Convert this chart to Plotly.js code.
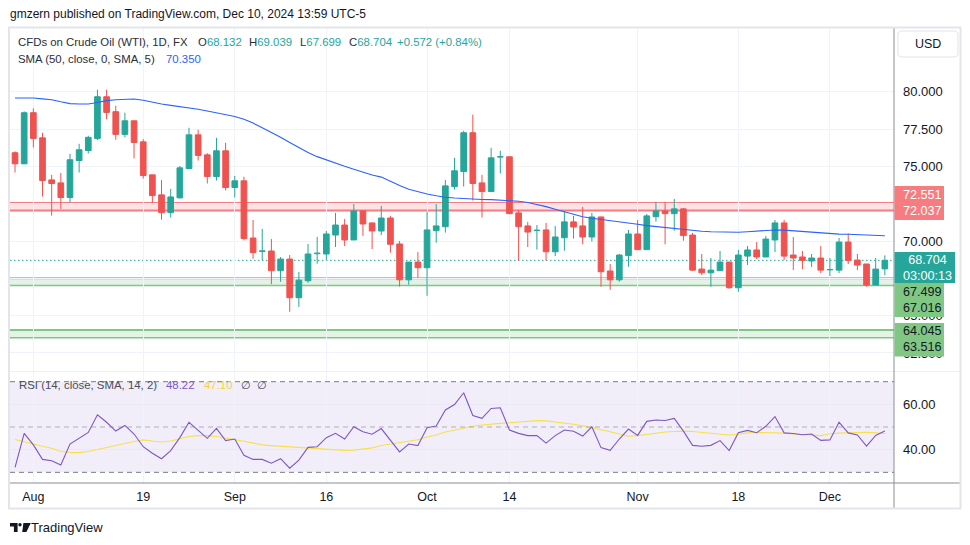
<!DOCTYPE html>
<html><head><meta charset="utf-8">
<script src="https://cdn.plot.ly/plotly-3.0.1.min.js"></script>
<style>html,body{margin:0;padding:0;background:#fff;overflow:hidden}#chart{width:970px;height:545px}</style>
</head><body><div id="chart"></div>
<script>
// ---------------- DATA ----------------
const dates = [
 '2024-07-30','2024-07-31',
 '2024-08-01','2024-08-02','2024-08-05','2024-08-06','2024-08-07','2024-08-08','2024-08-09','2024-08-12','2024-08-13','2024-08-14','2024-08-15','2024-08-16','2024-08-19','2024-08-20','2024-08-21','2024-08-22','2024-08-23','2024-08-26','2024-08-27','2024-08-28','2024-08-29','2024-08-30',
 '2024-09-02','2024-09-03','2024-09-04','2024-09-05','2024-09-06','2024-09-09','2024-09-10','2024-09-11','2024-09-12','2024-09-13','2024-09-16','2024-09-17','2024-09-18','2024-09-19','2024-09-20','2024-09-23','2024-09-24','2024-09-25','2024-09-26','2024-09-27','2024-09-30',
 '2024-10-01','2024-10-02','2024-10-03','2024-10-04','2024-10-07','2024-10-08','2024-10-09','2024-10-10','2024-10-11','2024-10-14','2024-10-15','2024-10-16','2024-10-17','2024-10-18','2024-10-21','2024-10-22','2024-10-23','2024-10-24','2024-10-25','2024-10-28','2024-10-29','2024-10-30','2024-10-31',
 '2024-11-01','2024-11-04','2024-11-05','2024-11-06','2024-11-07','2024-11-08','2024-11-11','2024-11-12','2024-11-13','2024-11-14','2024-11-15','2024-11-18','2024-11-19','2024-11-20','2024-11-21','2024-11-22','2024-11-25','2024-11-26','2024-11-27','2024-11-28','2024-11-29',
 '2024-12-02','2024-12-03','2024-12-04','2024-12-05','2024-12-06','2024-12-09','2024-12-10'
];
const openP = [75.91,75.17,78.59,76.91,74.09,73.89,72.91,75.39,76.06,76.87,
 79.66,78.66,77.14,78.05,76.64,74.43,73.09,71.90,72.89,74.85,
 77.11,75.77,74.32,76.04,73.58,74.03,70.20,69.30,69.33,68.01,
 68.79,66.20,67.34,69.15,69.13,70.40,71.07,70.07,72.01,71.21,
 70.67,71.54,69.80,67.40,68.59,68.21,70.69,70.96,73.65,74.65,
 77.25,73.89,73.31,75.62,75.64,71.88,71.01,70.70,70.74,69.28,
 70.22,71.28,71.01,70.27,71.61,67.99,67.40,69.02,70.47,69.42,
 71.63,72.01,71.83,72.15,70.40,68.12,67.87,68.01,68.59,66.87,
 68.99,69.40,68.93,70.07,71.21,69.06,68.93,68.66,68.86,68.07,
 68.05,69.93,68.72,68.46,67.05,68.132];
const highP = [76.00,78.68,78.88,77.25,74.43,74.56,75.84,76.51,77.05,80.13,
 80.13,79.06,78.59,78.05,76.82,74.43,74.09,73.49,75.03,77.58,
 77.45,75.88,76.91,76.58,74.36,74.30,71.41,70.81,70.13,68.93,
 69.06,67.92,69.80,70.27,70.67,71.88,71.48,72.48,72.01,71.21,
 72.35,71.68,70.00,68.59,69.26,71.95,72.48,74.09,75.57,77.38,
 78.46,74.43,76.24,76.04,75.64,72.08,71.28,71.07,71.21,71.01,
 72.01,71.68,72.28,71.88,71.61,68.46,69.13,70.74,71.41,71.81,
 72.62,72.62,72.82,72.21,70.54,69.13,68.86,69.33,68.59,69.40,
 69.66,69.93,70.34,71.41,71.41,70.27,69.33,69.13,69.66,68.86,
 70.20,70.51,69.13,68.46,68.86,69.039];
const lowP = [74.59,75.15,76.26,72.98,71.70,72.15,72.57,74.59,75.86,76.76,
 78.14,76.78,76.94,75.53,74.18,72.55,71.43,71.57,72.84,74.85,
 75.39,73.85,74.05,73.38,72.91,70.04,68.81,68.72,67.11,67.27,
 65.26,65.59,67.20,68.48,68.68,69.60,69.66,70.07,70.34,69.46,
 70.40,69.22,66.94,67.07,67.54,66.33,69.89,70.56,73.45,73.65,
 72.71,71.57,73.31,74.52,71.83,68.69,69.60,69.42,68.68,68.99,
 69.35,70.16,69.78,69.96,66.94,66.73,67.27,68.28,69.42,69.42,
 71.30,69.78,70.69,70.02,67.99,67.72,66.94,67.99,66.80,66.60,
 68.39,68.79,68.93,69.26,68.72,68.05,68.12,68.26,67.85,67.65,
 67.85,68.46,68.05,66.94,67.05,67.699];
const closeP = [75.17,78.59,76.87,74.05,73.85,72.91,75.44,76.11,76.94,79.66,
 78.61,77.14,78.05,76.60,74.38,73.04,71.90,72.95,74.90,77.11,
 75.73,74.32,76.04,73.58,74.03,70.16,69.22,69.34,68.01,68.79,
 66.20,67.38,69.13,69.19,70.47,71.07,70.07,72.01,71.14,70.67,
 71.54,69.78,67.40,68.59,68.21,70.74,71.01,73.69,74.70,77.25,
 73.85,73.31,75.57,75.65,71.83,70.96,70.60,70.73,69.28,70.27,
 71.28,70.94,70.27,71.61,67.94,67.40,69.06,70.47,69.42,71.68,
 72.01,71.83,72.15,70.36,68.05,67.87,68.05,68.59,66.87,69.06,
 69.40,68.93,70.13,71.21,68.99,68.86,68.70,68.86,68.05,68.09,
 69.93,68.70,68.39,67.05,68.12,68.704];
const sma50 = [79.58,79.58,79.58,79.52,79.46,79.32,79.20,79.17,79.17,79.28,
 79.40,79.46,79.50,79.51,79.42,79.28,79.18,79.08,79.00,78.93,
 78.82,78.70,78.58,78.43,78.34,78.16,77.90,77.58,77.28,76.95,
 76.60,76.27,75.92,75.65,75.42,75.20,75.00,74.80,74.60,74.42,
 74.28,73.98,73.72,73.47,73.30,73.15,73.03,72.93,72.88,72.84,
 72.80,72.78,72.77,72.75,72.72,72.66,72.58,72.45,72.30,72.12,
 71.94,71.76,71.62,71.52,71.45,71.38,71.28,71.22,71.12,71.03,
 70.96,70.89,70.84,70.78,70.70,70.65,70.62,70.60,70.58,70.59,
 70.62,70.66,70.70,70.74,70.73,70.68,70.62,70.56,70.51,70.47,
 70.46,70.45,70.43,70.40,70.38,70.35];
const rsi14 = [32.2,47.2,42.1,35.7,35.1,33.2,42.5,45.0,47.6,55.4,
 52.1,48.2,50.7,46.9,41.3,38.4,36.0,39.6,45.3,52.1,
 48.4,45.0,49.4,44.0,44.7,37.5,35.7,35.7,34.0,36.0,
 31.8,35.4,41.0,41.3,45.3,47.2,44.7,50.1,47.9,46.8,
 49.3,44.3,39.0,42.5,41.8,49.7,50.4,57.5,59.9,65.1,
 55.1,53.8,58.2,58.5,48.7,47.2,46.2,46.2,42.9,46.2,
 48.7,48.1,46.0,50.1,40.9,39.7,44.7,49.1,46.3,52.5,
 53.1,52.9,53.8,48.2,41.9,41.5,41.9,44.0,39.6,47.5,
 48.5,47.5,50.3,54.6,47.4,47.1,46.6,46.9,44.1,44.3,
 52.1,47.4,46.5,41.6,46.3,48.22];
const rsiMa = [44.5,43.4,42.5,41.5,40.6,39.2,38.8,38.7,39.2,40.0,
 41.0,41.9,42.7,43.6,44.3,43.8,43.4,43.8,44.8,45.8,
 46.2,46.2,45.8,45.2,44.5,43.7,42.9,42.1,41.8,41.5,
 41.2,41.0,40.6,40.3,40.0,39.8,39.7,39.8,40.2,40.8,
 41.8,42.5,43.1,43.6,44.4,45.6,46.5,47.8,48.7,49.7,
 50.3,50.9,51.4,51.6,51.9,52.3,52.6,52.8,52.7,52.3,
 51.9,51.2,50.5,49.8,48.8,47.9,46.9,45.9,46.2,46.8,
 47.3,47.8,48.0,48.2,48.0,47.6,47.2,46.8,46.5,46.8,
 47.4,47.6,47.6,47.6,47.3,46.9,46.5,46.4,46.2,47.0,
 47.3,47.5,47.7,47.7,47.4,47.10];
const resistance = [72.551, 72.037];
const supportA = [67.499, 67.016];
const supportB = [64.045, 63.516];
const lastPrice = 68.704;
const countdown = '03:00:13';
const changeText = '+0.572 (+0.84%)';
const tickDates = ['2024-08-01','2024-08-19','2024-09-02','2024-09-16','2024-10-01','2024-10-14','2024-11-01','2024-11-18','2024-12-02'];
const tickLabels = ['Aug','19','Sep','16','Oct','14','Nov','18','Dec'];
const priceTicks = [62.5,65,67.5,70,72.5,75,77.5,80];
const hiddenPriceTicks = [67.5,72.5];   // labels fully covered by the level boxes
const rsiTicks = [40,60];
const rsiLevels = [70,50,30];

// ---------------- GEOMETRY ----------------
const L=10, R=894, T=28, B=483;
const PX = px => (px-L)/(R-L);
const PY = py => (B-py)/(B-T);
const FONT = '"Liberation Sans", Arial, sans-serif';
const UP='#26a69a', DOWN='#ef5350', TXT='#131722', LEG='#2a2e39';

const idx = dates.map((d,i)=>i);
const isUp = closeP.map((c,i)=>c>=openP[i]);
const barColors = isUp.map(u=>u?UP:DOWN);

const wick = up => {const x=[],y=[];idx.forEach(i=>{if(isUp[i]===up){x.push(i,i,null);y.push(lowP[i],highP[i],null);}});return {x,y};};
const wu = wick(true), wd = wick(false);

const traces = [
 {type:'scatter',mode:'lines',x:wu.x,y:wu.y,line:{color:UP,width:1},hoverinfo:'skip',xaxis:'x',yaxis:'y'},
 {type:'scatter',mode:'lines',x:wd.x,y:wd.y,line:{color:DOWN,width:1},hoverinfo:'skip',xaxis:'x',yaxis:'y'},
 {type:'bar',x:idx,y:idx.map(i=>Math.max(Math.abs(closeP[i]-openP[i]),0.005)),base:idx.map(i=>Math.min(openP[i],closeP[i])),
  width:0.62,marker:{color:barColors,line:{color:barColors,width:1}},hoverinfo:'skip',xaxis:'x',yaxis:'y'},
 {type:'scatter',mode:'lines',x:idx,y:sma50,line:{color:'#2962ff',width:1.1},hoverinfo:'skip',xaxis:'x',yaxis:'y'},
 {type:'scatter',mode:'lines',x:idx,y:rsiMa,line:{color:'#f7e04b',width:1.1},hoverinfo:'skip',xaxis:'x',yaxis:'y2'},
 {type:'scatter',mode:'lines',x:idx,y:rsi14,line:{color:'#7e57c2',width:1.1},hoverinfo:'skip',xaxis:'x',yaxis:'y2'}
];

const shapes = [];
shapes.push({type:'rect',xref:'paper',yref:'y2',x0:0,x1:1,y0:rsiLevels[2],y1:rsiLevels[0],fillcolor:'rgba(126,87,194,0.1)',line:{width:0},layer:'below'});
rsiLevels.forEach((v,k)=>shapes.push({type:'line',xref:'paper',yref:'y2',x0:0,x1:1,y0:v,y1:v,layer:'above',
  line:{color:k===1?'rgba(120,123,134,0.55)':'#787b86',width:1,dash:'5px,4px'}}));
const band = (lv, lineCol, fillCol, w1, w2) => {
  shapes.push({type:'rect',xref:'paper',yref:'y',x0:0,x1:1,y0:lv[1],y1:lv[0],fillcolor:fillCol,line:{width:0},layer:'below'});
  shapes.push({type:'line',xref:'paper',yref:'y',x0:0,x1:1,y0:lv[0],y1:lv[0],line:{color:lineCol,width:w1},layer:'below'});
  shapes.push({type:'line',xref:'paper',yref:'y',x0:0,x1:1,y0:lv[1],y1:lv[1],line:{color:lineCol,width:w2},layer:'below'});
};
band(resistance,'#f77c80','rgba(242,54,69,0.14)',2,2);
band(supportA,'#81c784','rgba(76,175,80,0.15)',2,1.5);
band(supportB,'#81c784','rgba(76,175,80,0.15)',2,1.5);
shapes.push({type:'line',xref:'paper',yref:'y',x0:0,x1:1,y0:lastPrice,y1:lastPrice,line:{color:UP,width:1,dash:'1.5px,2.5px'},layer:'below'});

shapes.push({type:'line',xref:'paper',yref:'paper',x0:PX(L),x1:PX(961),y0:PY(371.5),y1:PY(371.5),line:{color:'#eef0f4',width:1},layer:'above'});
shapes.push({type:'line',xref:'paper',yref:'paper',x0:PX(L),x1:PX(960),y0:PY(483),y1:PY(483),line:{color:'#8a8d96',width:1},layer:'above'});
shapes.push({type:'line',xref:'paper',yref:'paper',x0:1,x1:1,y0:PY(508),y1:PY(28),line:{color:'#8a8d96',width:1},layer:'above'});
shapes.push({type:'rect',xref:'paper',yref:'paper',x0:PX(9),x1:PX(960.5),y0:PY(508.5),y1:PY(27.5),line:{color:'#e3e5ea',width:2},layer:'above'});

const box = (x0,y0,x1,y1,col) => shapes.push({type:'rect',xref:'paper',yref:'paper',x0:PX(x0),x1:PX(x1),y0:PY(y1),y1:PY(y0),fillcolor:col,line:{width:0},layer:'above'});
box(894.5,186,944,220,'#f77c80');
box(894.5,252,955,283,'#26a69a');
box(894.5,283,944,317,'#81c784');
box(894.5,323,944,356.5,'#81c784');

const rr = (x0,y0,x1,y1,r) => {
  const f=(a,b)=>PX(a).toFixed(5)+','+PY(b).toFixed(5);
  return 'M'+f(x0+r,y0)+' L'+f(x1-r,y0)+' Q'+f(x1,y0)+' '+f(x1,y0+r)+' L'+f(x1,y1-r)+' Q'+f(x1,y1)+' '+f(x1-r,y1)+
   ' L'+f(x0+r,y1)+' Q'+f(x0,y1)+' '+f(x0,y1-r)+' L'+f(x0,y0+r)+' Q'+f(x0,y0)+' '+f(x0+r,y0)+' Z';
};
shapes.push({type:'path',xref:'paper',yref:'paper',path:rr(898,31,958,57,4),line:{color:'#e0e3eb',width:1},fillcolor:'#ffffff',layer:'above'});

const poly = pts => 'M'+pts.map(p=>PX(p[0]).toFixed(5)+','+PY(p[1]).toFixed(5)).join(' L')+' Z';
shapes.push({type:'path',xref:'paper',yref:'paper',path:poly([[10,523],[17.6,523],[17.6,532],[13.9,532],[13.9,526.6],[10,526.6]]),fillcolor:TXT,line:{width:0},layer:'above'});
shapes.push({type:'circle',xref:'paper',yref:'paper',x0:PX(18.3),x1:PX(21.7),y0:PY(526.5),y1:PY(523.1),fillcolor:TXT,line:{width:0},layer:'above'});
shapes.push({type:'path',xref:'paper',yref:'paper',path:poly([[23.4,523],[30.8,523],[26.4,532],[22.2,532]]),fillcolor:TXT,line:{width:0},layer:'above'});

// ---------------- TEXT ----------------
const ann = [];
const txt = (text,px,py,color,size,anchor,extra) => ann.push(Object.assign({xref:'paper',yref:'paper',x:PX(px),y:PY(py),text:text,showarrow:false,
  xanchor:anchor||'left',yanchor:'middle',borderpad:0,font:{family:FONT,size:size||12,color:color||TXT}},extra||{}));
const teal = s => '<span style="color:'+UP+'">'+s+'</span>';
const LS = 11.4;
txt('gmzern published on TradingView.com, Dec 10, 2024 13:59 UTC-5',9,14,TXT,12);
txt('CFDs on Crude Oil (WTI), 1D, FX',17,42,LEG,LS);
txt('O'+teal(openP[95].toFixed(3)),197,42,LEG,LS);
txt('H'+teal(highP[95].toFixed(3)),248,42,LEG,LS);
txt('L'+teal(lowP[95].toFixed(3)),299,42,LEG,LS);
txt('C'+teal(closeP[95].toFixed(3)),348,42,LEG,LS);
txt(teal(changeText),396,42,LEG,LS);
txt('SMA (50, close, 0, SMA, 5)',17,59,LEG,LS);
txt(sma50[95].toFixed(3),165,59,'#2962ff',LS);
txt('RSI (14, close, SMA, 14, 2)',18,385,'#4a4e59',LS);
txt(rsi14[95].toFixed(2),165,385,'#7e57c2',LS);
txt(rsiMa[95].toFixed(2),203,385,'#f2d53c',LS);
txt('\u2205',240,385,'#4a4e59',LS);
txt('\u2205',256,385,'#4a4e59',LS);
txt('USD',928,44,TXT,12.5,'center');
const BS = 12.6;
txt(resistance[0].toFixed(3)+'<br>'+resistance[1].toFixed(3),902,203,'#ffffff',BS);
txt(lastPrice.toFixed(3)+'<br>'+countdown,902,267.5,'#ffffff',BS);
txt(supportA[0].toFixed(3)+'<br>'+supportA[1].toFixed(3),902,299.5,TXT,BS);
txt(supportB[0].toFixed(3)+'<br>'+supportB[1].toFixed(3),902,338.5,TXT,BS);
txt('TradingView',30,527,TXT,13);

const tickIdx = tickDates.map(d=>dates.indexOf(d));

const layout = {
  width:970,height:545,margin:{l:L,r:970-R,t:T,b:545-B},
  paper_bgcolor:'#ffffff',plot_bgcolor:'#ffffff',showlegend:false,hovermode:false,barmode:'overlay',
  font:{family:FONT,size:12,color:TXT},
  xaxis:{range:[-0.55,96.0],anchor:'y2',tickvals:tickIdx,ticktext:tickLabels,showgrid:true,gridcolor:'#f0f3fa',gridwidth:1,
    zeroline:false,showline:false,ticks:'',ticklabelstandoff:4,tickfont:{family:FONT,size:12.5,color:TXT},fixedrange:true},
  yaxis:{domain:[PY(371),1],range:[61.294,84.264],side:'right',anchor:'x',tickvals:priceTicks,
    ticktext:priceTicks.map(v=>hiddenPriceTicks.includes(v)?'':v.toFixed(3)),
    showgrid:true,gridcolor:'#f0f3fa',zeroline:false,showline:false,ticks:'',ticklabelstandoff:8,tickfont:{family:FONT,size:13,color:TXT}},
  yaxis2:{domain:[0,PY(372)],range:[25.29,74.27],side:'right',anchor:'x',tickvals:rsiTicks,ticktext:rsiTicks.map(v=>v.toFixed(2)),
    showgrid:true,gridcolor:'#ebe7f5',zeroline:false,showline:false,ticks:'',ticklabelstandoff:8,tickfont:{family:FONT,size:13,color:TXT}},
  shapes:shapes,annotations:ann
};
Plotly.newPlot('chart',traces,layout,{staticPlot:true,displayModeBar:false});
</script></body></html>
